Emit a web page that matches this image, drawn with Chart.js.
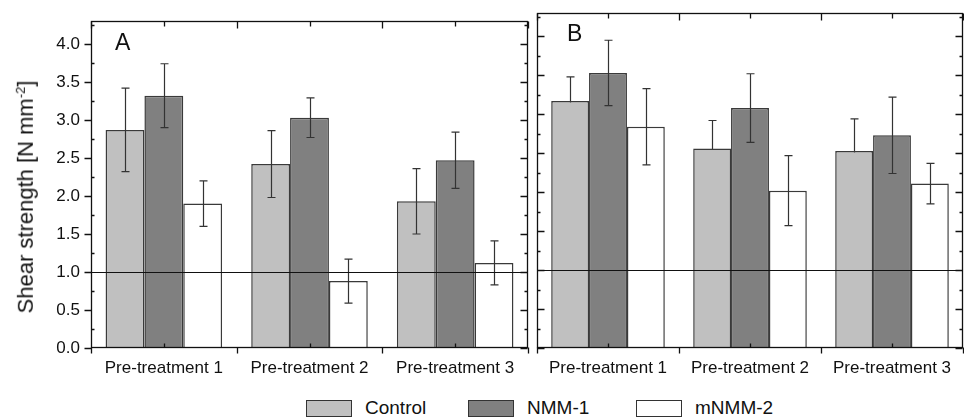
<!DOCTYPE html>
<html>
<head>
<meta charset="utf-8">
<script src="https://cdn.jsdelivr.net/npm/chart.js@4"></script>
<style>
  body { margin: 0; background: #fff; width: 964px; height: 417px; position: relative; overflow: hidden;
         font-family: "Liberation Sans", Arial, sans-serif; color: #111; }
  #wrapA { position: absolute; left: 0; top: 0; width: 531px; height: 380px; }
  #wrapB { position: absolute; left: 531px; top: 0; width: 433px; height: 380px; }
  #ytitle { position: absolute; left: 26px; top: 197px; transform: translate(-50%, -50%) rotate(-90deg);
            white-space: nowrap; font-size: 22px; }
  #ytitle sup { font-size: 13px; }
  .leg { position: absolute; top: 397px; display: flex; align-items: center; font-size: 19px; }
  .leg span.box { display: inline-block; width: 44px; height: 15px; border: 1px solid #333; margin-right: 13px; }
</style>
</head>
<body>
<div id="wrapA"><canvas id="chartA"></canvas></div>
<div id="wrapB"><canvas id="chartB"></canvas></div>
<div id="ytitle">Shear strength [N mm<sup>-2</sup>]</div>
<div class="leg" style="left:306px"><span class="box" style="background:#c0c0c0"></span>Control</div>
<div class="leg" style="left:468px"><span class="box" style="background:#808080"></span>NMM-1</div>
<div class="leg" style="left:636px"><span class="box" style="background:#ffffff"></span>mNMM-2</div>

<script>
const categories = ["Pre-treatment 1", "Pre-treatment 2", "Pre-treatment 3"];
const seriesNames = ["Control", "NMM-1", "mNMM-2"];
const seriesColors = ["#c0c0c0", "#808080", "#ffffff"];

// panel A
const controlA = [2.87, 2.42, 1.93];
const controlErrA = [0.55, 0.44, 0.43];
const nmm1A = [3.32, 3.03, 2.47];
const nmm1ErrA = [0.42, 0.26, 0.37];
const mnmm2A = [1.90, 0.88, 1.12];
const mnmm2ErrA = [0.30, 0.29, 0.29];

// panel B
const controlB = [3.17, 2.56, 2.53];
const controlErrB = [0.31, 0.36, 0.41];
const nmm1B = [3.53, 3.08, 2.73];
const nmm1ErrB = [0.42, 0.44, 0.49];
const mnmm2B = [2.84, 2.02, 2.11];
const mnmm2ErrB = [0.49, 0.45, 0.26];

const refLine = 1.0;
const yMax = 4.3;

function drawErrors(chart, opts, behind) {
  const ctx = chart.ctx;
  const y = chart.scales.y;
  chart.data.datasets.forEach((ds, i) => {
    if ((opts.behind || []).includes(i) !== behind) return;
    const meta = chart.getDatasetMeta(i);
    meta.data.forEach((bar, j) => {
      const v = ds.data[j], e = ds.errors[j];
      const x = Math.round(bar.x) + 0.5;
      const yt = y.getPixelForValue(v + e);
      const yb = y.getPixelForValue(v - e);
      ctx.save();
      ctx.strokeStyle = "#333";
      ctx.lineWidth = 1.2;
      ctx.beginPath();
      ctx.moveTo(x, yt); ctx.lineTo(x, yb);
      ctx.moveTo(x - 4, yt); ctx.lineTo(x + 4, yt);
      ctx.moveTo(x - 4, yb); ctx.lineTo(x + 4, yb);
      ctx.stroke();
      ctx.restore();
    });
  });
}

const errorBars = {
  id: "errorBars",
  beforeDatasetsDraw(chart, args, opts) { drawErrors(chart, opts, true); },
  afterDatasetsDraw(chart, args, opts) { drawErrors(chart, opts, false); }
};

// frame, ticks, reference line and panel letter
const frame = {
  id: "frame",
  afterDraw(chart, args, opts) {
    const ctx = chart.ctx;
    const a = chart.chartArea;
    const x = chart.scales.x, y = chart.scales.y;
    const L = Math.round(a.left) + 0.5, R = Math.round(a.right) - 0.5;
    const T = Math.round(a.top) + 0.5, B = Math.round(a.bottom) - 0.5;
    ctx.save();
    ctx.strokeStyle = "#111";
    ctx.lineWidth = 1;
    ctx.beginPath();
    const yr = Math.round(y.getPixelForValue(refLine)) + 0.5;
    ctx.moveTo(L, yr); ctx.lineTo(R, yr);
    ctx.stroke();

    ctx.lineWidth = 1.3;
    ctx.strokeRect(L, T, R - L, B - T);
    ctx.beginPath();
    for (let v = 0; v <= yMax + 1e-9; v += 0.25) {
      const py = Math.round(y.getPixelForValue(v)) + 0.5;
      const major = Math.abs(v * 2 - Math.round(v * 2)) < 1e-6;
      if (opts.leftOut) {
        if (major) { ctx.moveTo(L - 7, py); ctx.lineTo(L, py); }
        else { ctx.moveTo(L, py); ctx.lineTo(L + 3, py); }
      } else {
        ctx.moveTo(L, py); ctx.lineTo(L + (major ? 7 : 3), py);
      }
      ctx.moveTo(R, py); ctx.lineTo(R - (major ? 7 : 3), py);
    }
    categories.forEach((c, i) => {
      const px = Math.round(x.getPixelForValue(i)) + 0.5;
      ctx.moveTo(px, T); ctx.lineTo(px, T + 5);
      ctx.moveTo(px, B); ctx.lineTo(px, B - 4);
    });
    for (let i = 0; i <= categories.length; i++) {
      const px = Math.round(x.getPixelForValue(i - 0.5)) + 0.5;
      ctx.moveTo(px, B); ctx.lineTo(px, B + 6);
      ctx.moveTo(px, T); ctx.lineTo(px, T + 7);
    }
    ctx.stroke();

    ctx.fillStyle = "#111";
    ctx.font = "23px 'Liberation Sans', Arial, sans-serif";
    ctx.textBaseline = "middle";
    ctx.fillText(opts.letter, a.left + opts.letterDx, a.top + 22);
    ctx.restore();
  }
};

function makeDatasets(c, ce, n, ne, m, me) {
  const vals = [c, n, m], errs = [ce, ne, me];
  return seriesNames.map((name, i) => ({
    label: name,
    data: vals[i],
    errors: errs[i],
    backgroundColor: seriesColors[i],
    borderColor: "#3a3a3a",
    borderWidth: 1.5,
    categoryPercentage: 0.8,
    barPercentage: 1.0
  }));
}

function makeChart(id, datasets, showY, padding, frameOpts, behind) {
  return new Chart(document.getElementById(id), {
    type: "bar",
    data: { labels: categories, datasets: datasets },
    options: {
      responsive: true,
      maintainAspectRatio: false,
      animation: false,
      layout: { padding: padding },
      plugins: {
        legend: { display: false },
        tooltip: { enabled: false },
        errorBars: { behind: behind },
        frame: frameOpts
      },
      scales: {
        x: {
          grid: { display: false, drawTicks: false },
          border: { display: false },
          ticks: { color: "#111", font: { family: "'Liberation Sans', Arial, sans-serif", size: 17 }, padding: 10, maxRotation: 0, autoSkip: false },
          afterFit(s) { s.height = 32; }
        },
        y: {
          display: showY,
          min: 0,
          max: yMax,
          grid: { display: false, drawTicks: false },
          border: { display: false },
          ticks: {
            stepSize: 0.5,
            includeBounds: false,
            color: "#111",
            padding: 11,
            font: { family: "'Liberation Sans', Arial, sans-serif", size: 17 },
            callback: v => v.toFixed(1)
          },
          afterFit(s) { s.width = showY ? 91 : 0; }
        }
      }
    },
    plugins: [errorBars, frame]
  });
}

makeChart("chartA",
  makeDatasets(controlA, controlErrA, nmm1A, nmm1ErrA, mnmm2A, mnmm2ErrA),
  true, { top: 13, right: 3, left: 0, bottom: 0 },
  { letter: "A", letterDx: 24, leftOut: true }, []);

makeChart("chartB",
  makeDatasets(controlB, controlErrB, nmm1B, nmm1ErrB, mnmm2B, mnmm2ErrB),
  false, { top: 13, right: 1, left: 6, bottom: 0 },
  { letter: "B", letterDx: 30, leftOut: false }, [0]);
</script>
</body>
</html>
